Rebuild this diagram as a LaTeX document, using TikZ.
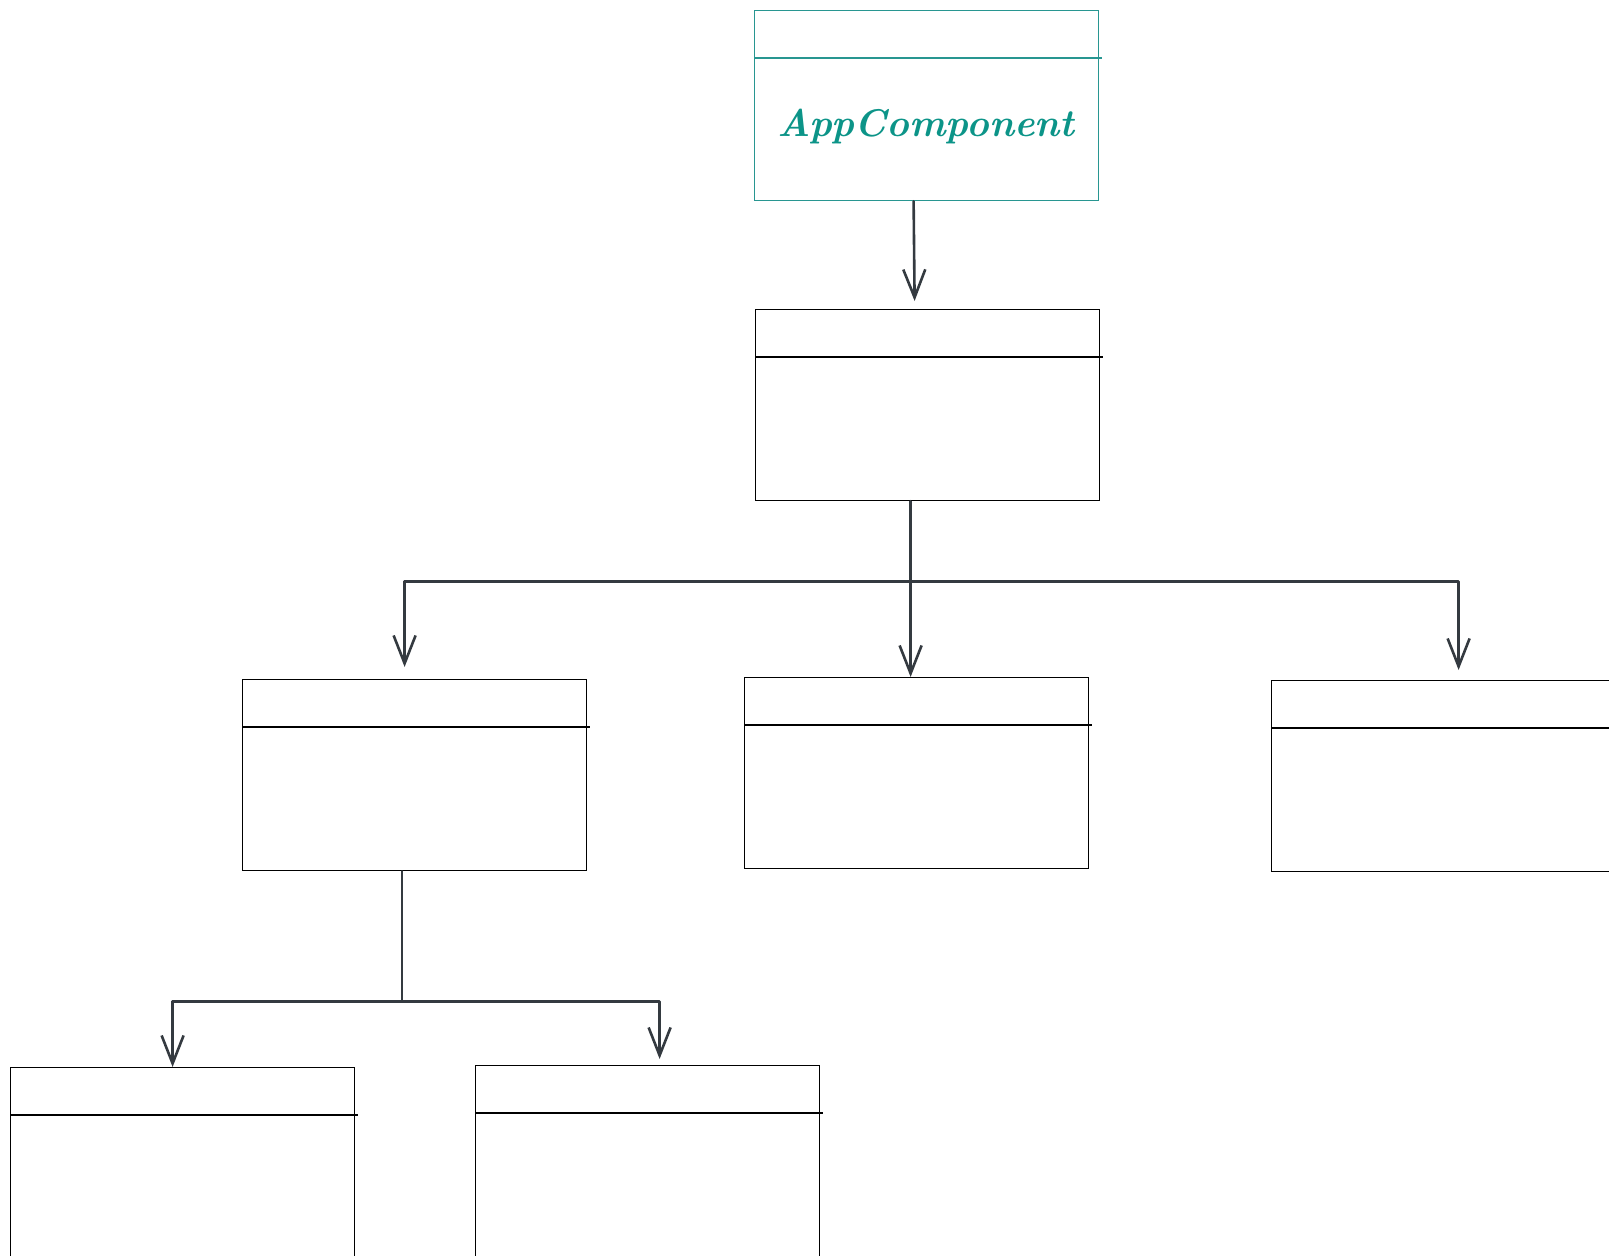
\documentclass[tikz,border=0pt]{standalone}
\usetikzlibrary{arrows.meta,calc}
\definecolor{tealtxt}{RGB}{12,148,136}
\definecolor{tealbox}{RGB}{40,150,145}
\definecolor{ink}{RGB}{52,58,64}
\begin{document}
\begin{tikzpicture}[x=1bp,y=-1bp,
  cls/.style={draw=black,line width=1.2bp,minimum width=344bp,minimum height=191bp,inner sep=0pt,anchor=north west},
  link/.style={draw=ink,line width=2.6bp,line cap=round,line join=round,-{Straight Barb[length=28bp,width=22bp,line width=2.6bp]}},
  bus/.style={draw=ink,line width=2.6bp,line cap=round,line join=round},
  divline/.style={line width=1.2bp}]
\useasboundingbox (0,0) rectangle (1609,1255);
% boxes
\node[cls,draw=tealbox,minimum height=190bp] (top) at (754,10) {};
\node[cls] (b2) at (755,309) {};
\node[cls] (l)  at (242,679) {};
\node[cls] (m)  at (744,677) {};
\node[cls] (r)  at (1271,680) {};
\node[cls] (bl) at (10,1067) {};
\node[cls] (bm) at (475,1065) {};
% dividers
\draw[divline,draw=tealbox] ([yshift=-48bp]top.north west) -- ([xshift=3bp,yshift=-48bp]top.north east);
\foreach \n in {b2,l,m,r,bl,bm}
  \draw[divline] ([yshift=-48bp]\n.north west) -- ([xshift=3bp,yshift=-48bp]\n.north east);
% label
\node[text=tealtxt,inner sep=0pt] (lbl) at (926,127) {\resizebox{297bp}{!}{\bfseries\itshape AppComponent}};
% connectors
\draw[link] ([xshift=-13bp]top.south) -- ([xshift=-13bp,yshift=8bp]b2.north);
\coordinate (j1) at ([xshift=-17bp,yshift=-80bp]b2.south);
\coordinate (j1l) at ([xshift=-10bp]l.north |- j1);
\coordinate (j1r) at ([xshift=15bp]r.north |- j1);
\draw[link] ([xshift=-17bp]b2.south) -- ([xshift=-17bp]b2.south |- m.north);
\draw[link] (j1) -- (j1l) -- ([xshift=-10bp,yshift=12bp]l.north);
\draw[link] (j1) -- (j1r) -- ([xshift=15bp,yshift=10bp]r.north);
\coordinate (j2) at ([xshift=-13bp,yshift=-130bp]l.south);
\coordinate (j2l) at ([xshift=-10bp]bl.north |- j2);
\coordinate (j2r) at ([xshift=12bp]bm.north |- j2);
\draw[bus,line width=2bp] ([xshift=-13bp]l.south) -- (j2);
\draw[link] (j2) -- (j2l) -- ([xshift=-10bp]bl.north);
\draw[link] (j2) -- (j2r) -- ([xshift=12bp,yshift=6bp]bm.north);
\end{tikzpicture}
\end{document}
